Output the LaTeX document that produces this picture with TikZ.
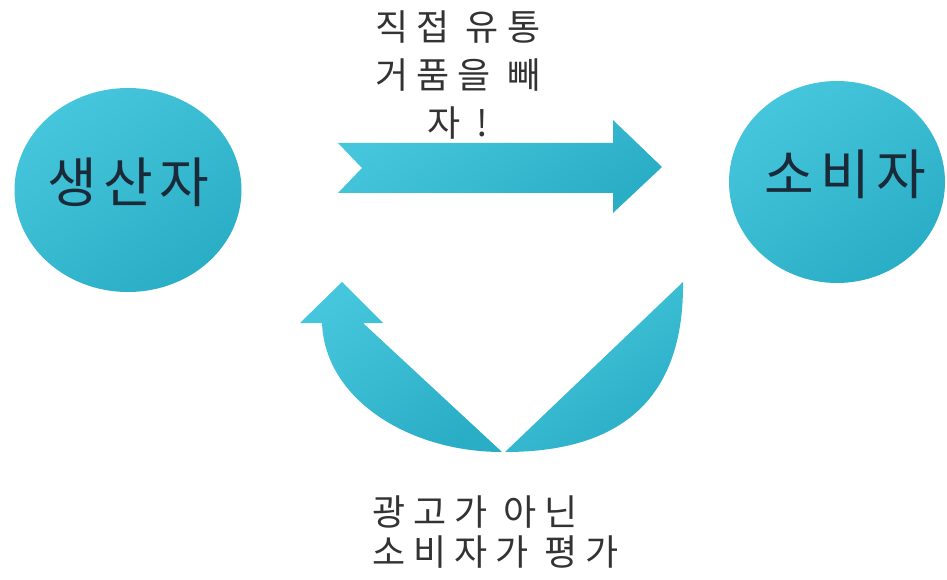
\documentclass[tikz,border=0pt]{standalone}
\usepackage{fontspec}
\newfontfamily\kr[LetterSpace=22]{Noto Sans CJK KR}
\newfontfamily\krbig[LetterSpace=12]{Noto Sans CJK KR}
\usetikzlibrary{shapes.geometric}
\definecolor{cLight}{HTML}{46C6DD}
\definecolor{cDark}{HTML}{2AAEC5}
\definecolor{txtDark}{HTML}{1B2A38}
\definecolor{txtGrey}{HTML}{333333}
\tikzset{
  blob/.style={top color=cLight, bottom color=cDark, shading angle=35, draw=none},
  party/.style={ellipse, blob, inner sep=0pt},
  partytext/.style={font=\krbig\fontsize{54}{60}\selectfont, text=txtDark, inner sep=0pt},
  note/.style={font=\kr\fontsize{36}{40}\selectfont, text=txtGrey, inner sep=0pt},
}
\begin{document}
\begin{tikzpicture}[x=1pt,y=-1pt]
\useasboundingbox (0,0) rectangle (947,580);
% circles
\node[party, minimum width=227pt, minimum height=204pt] (prod) at (128,190) {};
\node[partytext] (prodlbl) at ([yshift=8pt]prod.center) {생산자};
\node[party, minimum width=216pt, minimum height=202pt] (cons) at (837,182) {};
\node[partytext] (conslbl) at ([yshift=8pt,xshift=8pt]cons.center) {소비자};
% top arrow
\shade[blob] (338,143) -- (613,143) -- (613,120) -- (662,167) -- (613,213)
  -- (613,193) -- (338,193) -- (362,168) -- cycle;
\node[note, align=center, font=\kr\fontsize{36}{48}\selectfont] (top) at (458,75) {직접 유통\\거품을 빼\\자 !};
% bottom curved arrow: left part
\shade[blob] (502,452) -- (363,323) -- (383,323) -- (342,282) -- (300,323) -- (322,323)
  .. controls (325,400) and (410,452) .. (502,452) -- cycle;
% right blade
\shade[blob] (505,452) -- (683,282) .. controls (684,380) and (640,452) .. (505,452) -- cycle;
\node[note, align=left, anchor=west] (bottom) at (372,532) {광고가 아닌\\소비자가 평가};
\end{tikzpicture}
\end{document}
